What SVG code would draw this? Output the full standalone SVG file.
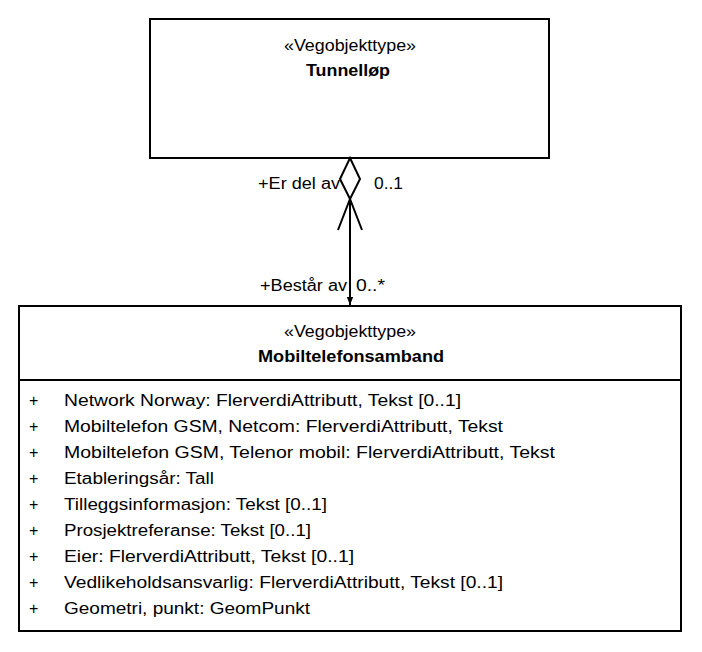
<svg xmlns="http://www.w3.org/2000/svg" width="702" height="652" viewBox="0 0 702 652">
<style>
text{font-family:"Liberation Sans",Arial,sans-serif;font-size:16px;fill:#000}
.b{font-weight:bold}
.c{text-anchor:middle}
.box{fill:#fff;stroke:#000;stroke-width:2}
.ln{fill:none;stroke:#000;stroke-width:2}
</style>
<defs>
<marker id="arr" viewBox="0 0 10 10" refX="10" refY="5" markerWidth="8" markerHeight="8" markerUnits="userSpaceOnUse" orient="auto">
<path d="M0,1 L10,5 L0,9 Z" fill="#000"/>
</marker>
</defs>
<rect width="702" height="652" fill="#fff"/>
<g id="node-tunnellop">
<rect class="box" x="150" y="19" width="399" height="139"/>
<text class="c" x="350" y="51" textLength="132" lengthAdjust="spacingAndGlyphs">«Vegobjekttype»</text>
<text class="c b" x="348" y="76" textLength="84" lengthAdjust="spacingAndGlyphs">Tunnelløp</text>
</g>
<g id="node-mobiltelefonsamband">
<rect class="box" x="19" y="306" width="662" height="325"/>
<line class="ln" x1="19" y1="380" x2="681" y2="380"/>
<text class="c" x="350" y="337" textLength="132" lengthAdjust="spacingAndGlyphs">«Vegobjekttype»</text>
<text class="c b" x="351" y="362" textLength="186" lengthAdjust="spacingAndGlyphs">Mobiltelefonsamband</text>
<g>
<text x="29" y="406">+</text><text x="64" y="406" textLength="397" lengthAdjust="spacingAndGlyphs">Network Norway: FlerverdiAttributt, Tekst [0..1]</text>
<text x="29" y="432">+</text><text x="64" y="432" textLength="439" lengthAdjust="spacingAndGlyphs">Mobiltelefon GSM, Netcom: FlerverdiAttributt, Tekst</text>
<text x="29" y="458">+</text><text x="64" y="458" textLength="491" lengthAdjust="spacingAndGlyphs">Mobiltelefon GSM, Telenor mobil: FlerverdiAttributt, Tekst</text>
<text x="29" y="484">+</text><text x="64" y="484" textLength="150" lengthAdjust="spacingAndGlyphs">Etableringsår: Tall</text>
<text x="29" y="510">+</text><text x="64" y="510" textLength="263" lengthAdjust="spacingAndGlyphs">Tilleggsinformasjon: Tekst [0..1]</text>
<text x="29" y="536">+</text><text x="64" y="536" textLength="247" lengthAdjust="spacingAndGlyphs">Prosjektreferanse: Tekst [0..1]</text>
<text x="29" y="562">+</text><text x="64" y="562" textLength="290" lengthAdjust="spacingAndGlyphs">Eier: FlerverdiAttributt, Tekst [0..1]</text>
<text x="29" y="588">+</text><text x="64" y="588" textLength="439" lengthAdjust="spacingAndGlyphs">Vedlikeholdsansvarlig: FlerverdiAttributt, Tekst [0..1]</text>
<text x="29" y="614">+</text><text x="64" y="614" textLength="246" lengthAdjust="spacingAndGlyphs">Geometri, punkt: GeomPunkt</text>
</g>
</g>
<g id="connectors">
<path class="ln" d="M350,158 L360,179 L350,199 L340,179 Z"/>
<line class="ln" x1="350" y1="199" x2="350" y2="305" marker-end="url(#arr)"/>
<path class="ln" d="M338,230 L350,199 L362,230"/>
<text x="258" y="189" textLength="82" lengthAdjust="spacingAndGlyphs">+Er del av</text>
<text x="374" y="189" textLength="29" lengthAdjust="spacingAndGlyphs">0..1</text>
<text x="260" y="291" textLength="87" lengthAdjust="spacingAndGlyphs">+Består av</text>
<text x="356" y="291" textLength="29" lengthAdjust="spacingAndGlyphs">0..*</text>
</g>
</svg>
